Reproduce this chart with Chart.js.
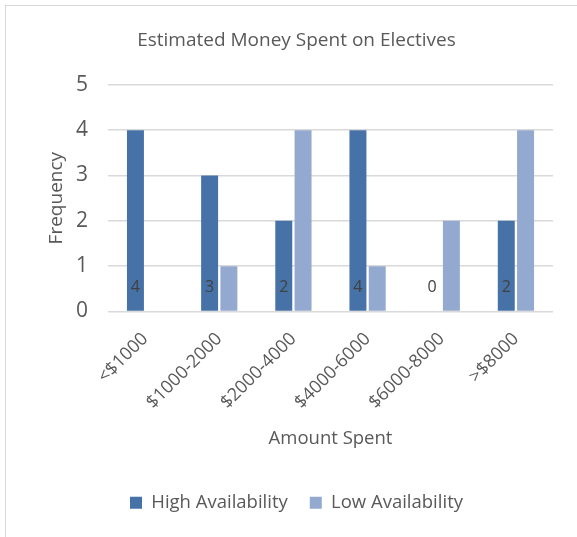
<!DOCTYPE html>
<html>
<head>
<meta charset="utf-8">
<script src="https://cdn.jsdelivr.net/npm/chart.js@4/dist/chart.umd.min.js"></script>
<style>
  html, body { margin: 0; padding: 0; background: #fff; }
  #wrap { width: 577px; height: 537px; position: relative; }
</style>
</head>
<body>
<div id="wrap"><canvas id="chart" width="577" height="537"></canvas></div>
<script>
// data
const categories = ["<$1000", "$1000-2000", "$2000-4000", "$4000-6000", "$6000-8000", ">$8000"];
const highAvailability = [4, 3, 2, 4, 0, 2];
const lowAvailability = [0, 1, 4, 1, 2, 4];
const yTicks = [0, 1, 2, 3, 4, 5];

const FONT = "'Open Sans', 'Noto Sans', sans-serif";
const TEXT = "#595959";

// frame around the chart, like the spreadsheet chart box
const framePlugin = {
  id: "frame",
  beforeDraw(chart) {
    const ctx = chart.ctx;
    ctx.save();
    ctx.fillStyle = "#fff";
    ctx.fillRect(0, 0, chart.width, chart.height);
    ctx.strokeStyle = "#d9d9d9";
    ctx.lineWidth = 1;
    ctx.strokeRect(5.5, 5.5, 700, 700);
    ctx.restore();
  }
};

// value labels at the base of the High Availability bars
const baseLabels = {
  id: "baseLabels",
  afterDatasetsDraw(chart) {
    const ctx = chart.ctx;
    const meta = chart.getDatasetMeta(0);
    const y0 = chart.scales.y.getPixelForValue(0);
    ctx.save();
    ctx.font = "16px " + FONT;
    ctx.fillStyle = "#404040";
    ctx.textAlign = "center";
    ctx.textBaseline = "middle";
    meta.data.forEach((bar, i) => {
      ctx.fillText(String(highAvailability[i]), bar.x, y0 - 24);
    });
    ctx.restore();
  }
};

new Chart(document.getElementById("chart"), {
  type: "bar",
  data: {
    labels: categories,
    datasets: [{
      label: "High Availability",
      data: highAvailability,
      backgroundColor: "#4672a7",
      categoryPercentage: 0.52,
      barPercentage: 0.88
    }, {
      label: "Low Availability",
      data: lowAvailability,
      backgroundColor: "#94a9d0",
      categoryPercentage: 0.52,
      barPercentage: 0.88
    }]
  },
  options: {
    responsive: false,
    animation: false,
    layout: { padding: { left: 40, right: 24, top: 0, bottom: 15 } },
    plugins: {
      title: {
        display: true,
        text: "Estimated Money Spent on Electives",
        color: TEXT,
        font: { family: FONT, size: 19, weight: "normal" },
        padding: { top: 29, bottom: 33 }
      },
      legend: {
        position: "bottom",
        labels: {
          color: TEXT,
          font: { family: FONT, size: 18.5 },
          boxWidth: 12,
          boxHeight: 12,
          padding: 22
        }
      },
      tooltip: { enabled: false }
    },
    scales: {
      x: {
        grid: { display: false },
        border: { display: false },
        ticks: {
          color: TEXT,
          font: { family: FONT, size: 18 },
          minRotation: 45,
          maxRotation: 45,
          padding: 9
        },
        title: {
          display: true,
          text: "Amount Spent",
          color: TEXT,
          font: { family: FONT, size: 18.5 },
          padding: { top: 0, bottom: 22 }
        },
        afterFit(scale) { scale.height = 160; }
      },
      y: {
        min: 0,
        max: 5,
        afterBuildTicks(scale) { scale.ticks = yTicks.map(v => ({ value: v })); },
        grid: { color: "#d9d9d9", lineWidth: 1.5, drawTicks: false },
        border: { display: false },
        ticks: {
          color: TEXT,
          font: { family: FONT, size: 21 },
          padding: 20
        },
        title: {
          display: true,
          text: "Frequency",
          color: TEXT,
          font: { family: FONT, size: 19 },
          padding: { top: 5, bottom: 0 }
        },
        afterFit(scale) { scale.width = 68; }
      }
    }
  },
  plugins: [framePlugin, baseLabels]
});
</script>
</body>
</html>
